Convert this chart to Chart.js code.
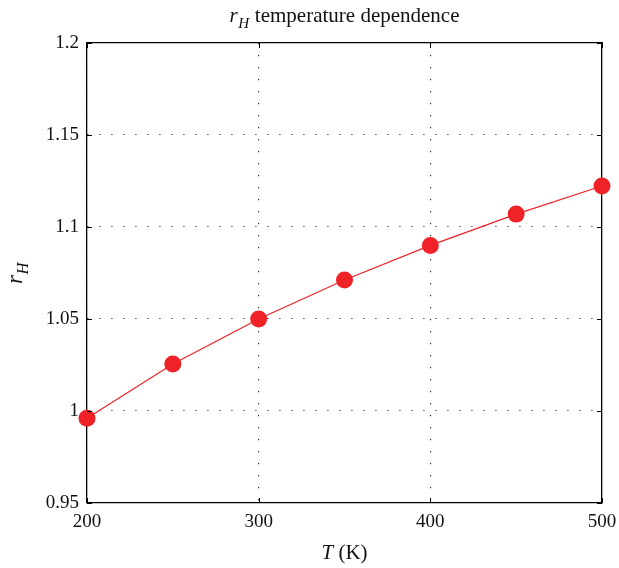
<!DOCTYPE html>
<html>
<head>
<meta charset="utf-8">
<script src="https://cdn.jsdelivr.net/npm/chart.js@4/dist/chart.umd.min.js"></script>
<style>
    body { margin: 0; background: #fff; }
</style>
</head>
<body>
<canvas id="rh-graph" width="619" height="568"></canvas>
<script>
const temps = [200, 250, 300, 350, 400, 450, 500]
const rH = [0.996, 1.0255, 1.05, 1.0712, 1.090, 1.107, 1.1223]
const xTicks = [200, 300, 400, 500]
const yTicks = [0.95, 1, 1.05, 1.1, 1.15, 1.2]

const FONT = "'Liberation Serif', 'DejaVu Serif', serif"
const RED = '#ee2227'

// r_H with italic r and subscript H, returns width
function rhLabel(ctx, x, y, size, draw) {
    ctx.font = `italic ${size}px ${FONT}`
    const wr = ctx.measureText('r').width
    ctx.font = `italic ${size * 0.72}px ${FONT}`
    const wh = ctx.measureText('H').width
    if (draw) {
        ctx.font = `italic ${size}px ${FONT}`
        ctx.fillText('r', x, y)
        ctx.font = `italic ${size * 0.72}px ${FONT}`
        ctx.fillText('H', x + wr + 0.5, y + size * 0.28)
    }
    return wr + wh + 1
}

const labelsPlugin = {
    id: 'labels',
    afterDraw(chart) {
        const ctx = chart.ctx
        const area = chart.chartArea
        ctx.save()
        ctx.fillStyle = '#111'
        ctx.textBaseline = 'alphabetic'
        ctx.textAlign = 'left'

        // title
        let size = 21
        const rest = ' temperature dependence'
        const wrh = rhLabel(ctx, 0, 0, size, false)
        ctx.font = `${size}px ${FONT}`
        const wrest = ctx.measureText(rest).width
        let x0 = (area.left + area.right) / 2 - (wrh + wrest) / 2
        rhLabel(ctx, x0, 22, size, true)
        ctx.font = `${size}px ${FONT}`
        ctx.fillText(rest, x0 + wrh, 22)

        // x label
        ctx.font = `italic ${size}px ${FONT}`
        const wt = ctx.measureText('T').width
        ctx.font = `${size}px ${FONT}`
        const wk = ctx.measureText(' (K)').width
        x0 = (area.left + area.right) / 2 - (wt + wk) / 2
        ctx.font = `italic ${size}px ${FONT}`
        ctx.fillText('T', x0, 559)
        ctx.font = `${size}px ${FONT}`
        ctx.fillText(' (K)', x0 + wt, 559)

        // y label
        ctx.translate(22, (area.top + area.bottom) / 2)
        ctx.rotate(-Math.PI / 2)
        const wy = rhLabel(ctx, 0, 0, 23, false)
        rhLabel(ctx, -wy / 2, 0, 23, true)
        ctx.restore()

        // inner tick marks
        const xs = chart.scales.x
        const ys = chart.scales.y
        ctx.save()
        ctx.strokeStyle = '#000'
        ctx.lineWidth = 1
        ctx.beginPath()
        for (let t of xTicks) {
            const px = Math.round(xs.getPixelForValue(t)) + 0.5
            ctx.moveTo(px, area.bottom); ctx.lineTo(px, area.bottom - 5)
            ctx.moveTo(px, area.top); ctx.lineTo(px, area.top + 5)
        }
        for (let t of yTicks) {
            const py = Math.round(ys.getPixelForValue(t)) + 0.5
            ctx.moveTo(area.left, py); ctx.lineTo(area.left + 5, py)
            ctx.moveTo(area.right, py); ctx.lineTo(area.right - 5, py)
        }
        ctx.stroke()
        ctx.restore()
    }
}

const points = []
for (let i = 0; i < temps.length; i++) {
    points.push({x: temps[i], y: rH[i]})
}

const gridStyle = {color: '#222', lineWidth: 1.1, drawTicks: false}
const frameOnly = {
    grid: {display: false, drawTicks: false},
    ticks: {display: false},
    border: {display: true, color: '#000', width: 1.3}
}

const canvas_graph = document.getElementById('rh-graph')
const graph = new Chart(canvas_graph, {
    type: 'line',
    data: {
        datasets: [{
            data: points,
            borderColor: RED,
            borderWidth: 1.2,
            backgroundColor: RED,
            pointBackgroundColor: RED,
            pointBorderWidth: 0,
            pointRadius: 8.5,
            pointHoverRadius: 8.5,
            tension: 0,
            clip: false
        }]
    },
    options: {
        responsive: false,
        animation: false,
        layout: {padding: 0, autoPadding: false},
        plugins: {
            legend: {display: false},
            tooltip: {enabled: false}
        },
        scales: {
            x: {
                type: 'linear',
                position: 'bottom',
                min: 200,
                max: 500,
                afterBuildTicks: s => { s.ticks = xTicks.map(v => ({value: v})) },
                afterFit: s => {
                    s.height = 65
                    s.paddingLeft = 0
                    s.paddingRight = 0
                },
                grid: gridStyle,
                border: {display: true, color: '#000', width: 1.3, dash: [1.2, 10.8]},
                ticks: {
                    color: '#111',
                    padding: 8,
                    font: {family: FONT, size: 19}
                }
            },
            x2: Object.assign({
                type: 'linear',
                position: 'top',
                min: 200,
                max: 500,
                afterFit: s => { s.height = 43 }
            }, frameOnly),
            y: {
                type: 'linear',
                position: 'left',
                min: 0.95,
                max: 1.2,
                afterBuildTicks: s => { s.ticks = yTicks.map(v => ({value: v})) },
                afterFit: s => { s.width = 87 },
                grid: gridStyle,
                border: {display: true, color: '#000', width: 1.3, dash: [1.2, 10.8]},
                ticks: {
                    color: '#111',
                    padding: 8,
                    font: {family: FONT, size: 19},
                    callback: v => String(+v.toFixed(2))
                }
            },
            y2: Object.assign({
                type: 'linear',
                position: 'right',
                min: 0.95,
                max: 1.2,
                afterFit: s => { s.width = 17 }
            }, frameOnly)
        }
    },
    plugins: [labelsPlugin]
})
</script>
</body>
</html>
